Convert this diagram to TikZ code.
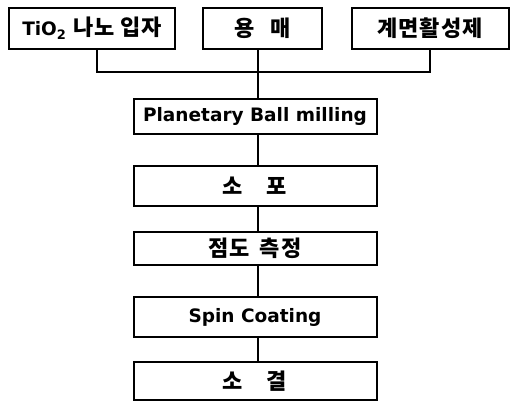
\documentclass[tikz,border=0pt]{standalone}
\usepackage{fontspec}
\setmainfont{DejaVu Sans}
\newfontfamily\kr{Noto Sans CJK KR}[LetterSpace=4]
\begin{document}
\begin{tikzpicture}[x=1pt,y=-1pt,
  box/.style={draw, line width=2pt, inner sep=0pt, font=\bfseries\fontsize{18.5}{18.5}\selectfont},
  link/.style={line width=2pt}]
\useasboundingbox (0,0) rectangle (515,402);
\newcommand{\K}[1]{{\kr\bfseries\fontsize{22}{22}\selectfont #1}}
% top row
\node[box, minimum width=166pt, minimum height=41pt] (b1) at (92,28.5)
  {TiO\raisebox{-0.4ex}{\fontsize{13}{13}\selectfont 2}\hspace{7pt}\K{나노\hspace{6pt}입자}};
\node[box, minimum width=119pt, minimum height=41pt] (b2) at (262.5,28.5) {\K{용\hspace{16pt}매}};
\node[box, minimum width=157pt, minimum height=41pt] (b3) at (430,28.5) {\K{계면활성제}};
% main column
\node[box, minimum width=243pt, minimum height=35pt] (m1) at (255,116.5) {Planetary Ball milling};
\node[box, minimum width=243pt, minimum height=40pt] (m2) at (255,186) {\K{소\hspace{24pt}포}};
\node[box, minimum width=243pt, minimum height=33pt] (m3) at (255,248.5) {\K{점도\hspace{10pt}측정}};
\node[box, minimum width=243pt, minimum height=40pt] (m4) at (255,317) {Spin Coating};
\node[box, minimum width=243pt, minimum height=38pt] (m5) at (255,381) {\K{소\hspace{24pt}결}};
% connectors
\coordinate (spine) at (258,72);
\coordinate (c1) at (97,72);
\coordinate (c3) at (430,72);
\draw[link] (b1.south -| c1) -- (c1) -- (c3) -- (b3.south -| c3);
\draw[link] (b2.south -| spine) -- (m1.north -| spine);
\draw[link] (m1.south -| spine) -- (m2.north -| spine);
\draw[link] (m2.south -| spine) -- (m3.north -| spine);
\draw[link] (m3.south -| spine) -- (m4.north -| spine);
\draw[link] (m4.south -| spine) -- (m5.north -| spine);
\end{tikzpicture}
\end{document}
